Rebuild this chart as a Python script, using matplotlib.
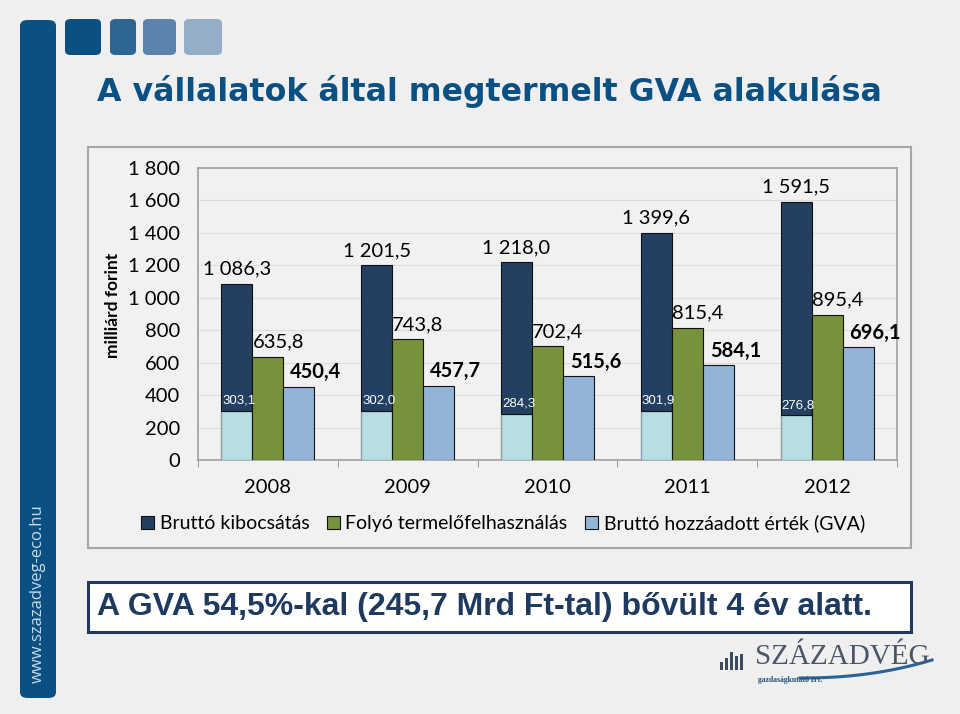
import matplotlib
matplotlib.use("Agg")
import matplotlib.pyplot as plt
import numpy as np
from matplotlib.patches import FancyBboxPatch, Rectangle
from matplotlib.lines import Line2D

# data
years = ["2008", "2009", "2010", "2011", "2012"]
kibocsatas = [1086.3, 1201.5, 1218.0, 1399.6, 1591.5]
kibocsatas_also = [303.1, 302.0, 284.3, 301.9, 276.8]
termelofelh = [635.8, 743.8, 702.4, 815.4, 895.4]
gva = [450.4, 457.7, 515.6, 584.1, 696.1]
yticks = [0, 200, 400, 600, 800, 1000, 1200, 1400, 1600, 1800]

W, H = 960, 714
font = ["Lato", "DejaVu Sans"]
plt.rcParams["font.family"] = font

fig = plt.figure(figsize=(W / 100, H / 100), dpi=100)
fig.patch.set_facecolor("#efefef")


def fx(x):
    return x / W


def fy(y):
    return 1 - y / H


def huf(v):
    s = f"{v:,.1f}".replace(",", " ").replace(".", ",")
    return s


# decoration: left band and squares
fig.patches.append(FancyBboxPatch((fx(20), fy(698)), fx(36), (698 - 20) / H,
                                  boxstyle="round,pad=0,rounding_size=0.008",
                                  transform=fig.transFigure, fc="#0b5082", ec="none"))
for x0, w, c in [(65, 36, "#0b5082"), (110, 26, "#2f6592"), (143, 33, "#5c83ab"), (184, 38, "#94adc9")]:
    fig.patches.append(FancyBboxPatch((fx(x0), fy(55)), fx(w), 36 / H,
                                      boxstyle="round,pad=0,rounding_size=0.006",
                                      transform=fig.transFigure, fc=c, ec="none"))
fig.text(fx(38), fy(594), "www.szazadveg-eco.hu", rotation=90, ha="center", va="center",
         color="#c9dae8", fontsize=12, family=["Open Sans", "DejaVu Sans"])

fig.text(fx(97), fy(91), "A vállalatok által megtermelt GVA alakulása", ha="left", va="center",
         fontsize=22.8, fontweight="bold", color="#0b5082", family="DejaVu Sans")

# chart frame
fig.patches.append(Rectangle((fx(88), fy(548)), fx(823), (548 - 147) / H, transform=fig.transFigure,
                             fc="#f1f1f1", ec="#a6a6a6", lw=1.5))

ax = fig.add_axes([fx(198), fy(460), fx(897 - 198), (460 - 168) / H])
ax.set_zorder(3)
ax.set_facecolor("none")
x = np.arange(len(years))
w = 0.222

ax.bar(x - w, kibocsatas_also, w, color="#b7dee3", edgecolor="#8a9ea3", lw=1, zorder=3)
ax.bar(x - w, np.array(kibocsatas) - np.array(kibocsatas_also), w, bottom=kibocsatas_also,
       color="#233f62", edgecolor="#111111", lw=0.8, zorder=3, label="Bruttó kibocsátás")
ax.bar(x, termelofelh, w, color="#76923c", edgecolor="#111111", lw=0.8, zorder=3,
       label="Folyó termelőfelhasználás")
ax.bar(x + w, gva, w, color="#94b3d8", edgecolor="#111111", lw=0.8, zorder=3,
       label="Bruttó hozzáadott érték (GVA)")

for i in range(len(years)):
    ax.text(x[i] - w, kibocsatas[i] + 38, huf(kibocsatas[i]), ha="center", va="bottom", fontsize=14.5)
    ax.text(x[i] - w / 2, termelofelh[i] + 38, huf(termelofelh[i]), ha="left", va="bottom", fontsize=14.5)
    ax.text(x[i] + w / 2 + 0.05, gva[i] + 28, huf(gva[i]), ha="left", va="bottom", fontsize=14.5,
            fontweight="bold")
    ax.text(x[i] - 1.5 * w + 0.008, kibocsatas_also[i] + 25, huf(kibocsatas_also[i]), ha="left",
            va="bottom", fontsize=9.5, color="white", family=["Liberation Sans", "DejaVu Sans"])

ax.set_xlim(-0.5, len(years) - 0.5)
ax.set_ylim(0, 1800)
ax.set_yticks(yticks)
ax.set_yticklabels([f"{v:,}".replace(",", " ") for v in yticks], fontsize=14.5)
ax.set_xticks(x)
ax.set_xticklabels(years, fontsize=14.5)
ax.set_xticks(np.arange(len(years) + 1) - 0.5, minor=True)
ax.tick_params(axis="x", which="major", length=0, pad=14)
ax.tick_params(axis="x", which="minor", length=5, color="#888888")
ax.tick_params(axis="y", length=0, pad=13)
ax.grid(axis="y", color="#dddddd", lw=0.8, zorder=0)
for s in ax.spines.values():
    s.set_color("#a0a0a0")
    s.set_linewidth(1.2)
ax.set_ylabel("milliárd forint", fontsize=12.5, fontweight="bold")
ax.yaxis.set_label_coords(fx(121 - 198) / fx(897 - 198), 0.53)

ax.legend(loc="center", bbox_to_anchor=(fx(503 - 198) / fx(699), -0.217), ncol=3, frameon=False,
          fontsize=14, handlelength=0.65, handleheight=0.65, handletextpad=0.3, columnspacing=0.9,
          borderaxespad=0)

# summary box
fig.patches.append(Rectangle((fx(88), fy(632)), fx(823), 50 / H, transform=fig.transFigure,
                             fc="white", ec="#1f3a5f", lw=2.2))
fig.text(fx(97), fy(607), "A GVA 54,5%-kal (245,7 Mrd Ft-tal) bővült 4 év alatt.", ha="left", va="center",
         fontsize=23, fontweight="bold", color="#1f3a5f",
         family=["Liberation Sans Narrow", "Liberation Sans", "DejaVu Sans"])

# logo
for xb, hb in [(720, 8), (725, 12), (730, 18), (735, 14), (740, 16)]:
    fig.patches.append(Rectangle((fx(xb), fy(670)), fx(3.2), hb / H, transform=fig.transFigure,
                                 fc="#3b4a5e", ec="none"))
fig.text(fx(755), fy(657), "SZÁZADVÉG", ha="left", va="center", fontsize=21, color="#4a5668",
         family=["Liberation Serif", "DejaVu Serif"])
fig.text(fx(758), fy(680), "gazdaságkutató zrt.", ha="left", va="center", fontsize=5.5,
         color="#1f4e79", family=["Liberation Serif", "DejaVu Serif"], fontweight="bold")
sx = np.linspace(800, 932, 40)
sy = 678 - 18 * ((sx - 800) / 132) ** 2.2
fig.lines.append(Line2D(fx(sx), fy(sy), transform=fig.transFigure, color="#2a6496", lw=2.2))

fig.savefig("out.png", dpi=100, facecolor=fig.get_facecolor())
